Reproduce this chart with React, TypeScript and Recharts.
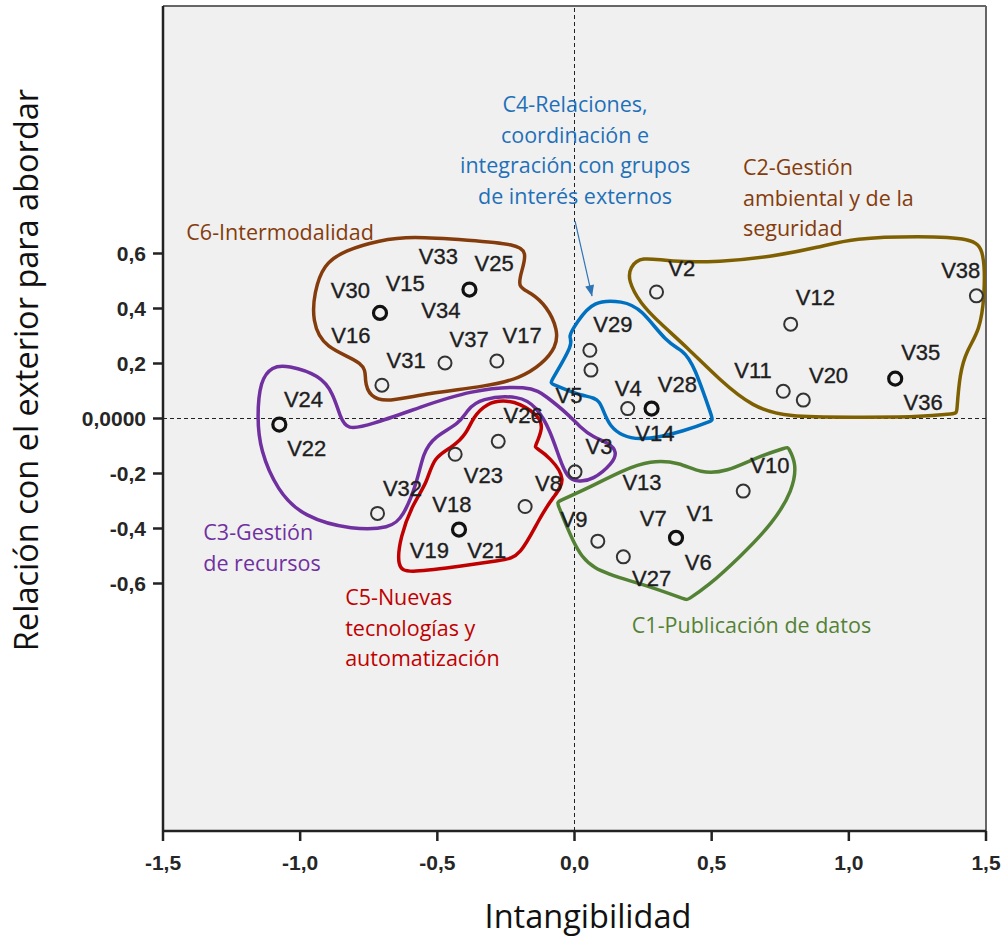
import React from "react";
import {
    ComposedChart, XAxis, YAxis, CartesianGrid, Scatter, Line, ReferenceLine,
} from "recharts";

// axis ticks
const X_TICKS = [-1.5, -1, -0.5, 0, 0.5, 1, 1.5];
const Y_TICKS = [-0.6, -0.4, -0.2, 0, 0.2, 0.4, 0.6];

// variables drawn as a single circle
const SINGLE_POINTS = [
    { x: -0.472, y: 0.202 }, { x: -0.283, y: 0.209 }, { x: -0.702, y: 0.121 },
    { x: 0.056, y: 0.248 }, { x: 0.06, y: 0.176 }, { x: 0.194, y: 0.036 },
    { x: 0.299, y: 0.46 }, { x: 0.788, y: 0.343 }, { x: 1.465, y: 0.446 },
    { x: 0.761, y: 0.099 }, { x: 0.834, y: 0.067 }, { x: -0.278, y: -0.083 },
    { x: -0.435, y: -0.13 }, { x: -0.18, y: -0.32 }, { x: -0.718, y: -0.345 },
    { x: 0.002, y: -0.194 }, { x: 0.615, y: -0.264 }, { x: 0.085, y: -0.446 },
    { x: 0.178, y: -0.503 },
];

// several variables on the same spot (heavier circle)
const MULTI_POINTS = [
    { x: -0.709, y: 0.384 }, { x: -0.383, y: 0.469 }, { x: 0.281, y: 0.036 },
    { x: 1.169, y: 0.145 }, { x: -1.076, y: -0.022 }, { x: -0.421, y: -0.404 },
    { x: 0.37, y: -0.434 },
];

const POINT_LABELS = [
    { name: "V33", x: -0.496, y: 0.589 }, { name: "V25", x: -0.293, y: 0.564 },
    { name: "V30", x: -0.817, y: 0.467 }, { name: "V15", x: -0.617, y: 0.492 },
    { name: "V34", x: -0.487, y: 0.394 }, { name: "V16", x: -0.815, y: 0.303 },
    { name: "V37", x: -0.384, y: 0.288 }, { name: "V17", x: -0.191, y: 0.302 },
    { name: "V31", x: -0.614, y: 0.212 }, { name: "V29", x: 0.14, y: 0.345 },
    { name: "V4", x: 0.196, y: 0.109 }, { name: "V28", x: 0.375, y: 0.125 },
    { name: "V5", x: -0.02, y: 0.085 }, { name: "V2", x: 0.391, y: 0.548 },
    { name: "V12", x: 0.878, y: 0.442 }, { name: "V38", x: 1.408, y: 0.539 },
    { name: "V11", x: 0.651, y: 0.176 }, { name: "V20", x: 0.926, y: 0.157 },
    { name: "V35", x: 1.262, y: 0.242 }, { name: "V36", x: 1.271, y: 0.06 },
    { name: "V14", x: 0.293, y: -0.053 }, { name: "V24", x: -0.988, y: 0.07 },
    { name: "V22", x: -0.976, y: -0.106 }, { name: "V32", x: -0.627, y: -0.252 },
    { name: "V23", x: -0.332, y: -0.206 }, { name: "V18", x: -0.447, y: -0.312 },
    { name: "V8", x: -0.095, y: -0.236 }, { name: "V19", x: -0.529, y: -0.479 },
    { name: "V21", x: -0.32, y: -0.479 }, { name: "V26", x: -0.187, y: 0.012 },
    { name: "V3", x: 0.089, y: -0.1 }, { name: "V13", x: 0.246, y: -0.231 },
    { name: "V10", x: 0.712, y: -0.17 }, { name: "V9", x: -0.002, y: -0.366 },
    { name: "V7", x: 0.287, y: -0.361 }, { name: "V1", x: 0.457, y: -0.345 },
    { name: "V6", x: 0.451, y: -0.521 }, { name: "V27", x: 0.281, y: -0.581 },
];

// cluster outlines
const HULL_C6 = [
    { x: -0.599, y: 0.663 }, { x: -0.381, y: 0.648 }, { x: -0.213, y: 0.634 },
    { x: -0.173, y: 0.605 }, { x: -0.191, y: 0.54 }, { x: -0.209, y: 0.478 },
    { x: -0.162, y: 0.46 }, { x: -0.1, y: 0.408 }, { x: -0.06, y: 0.321 },
    { x: -0.067, y: 0.259 }, { x: -0.118, y: 0.198 }, { x: -0.199, y: 0.146 },
    { x: -0.319, y: 0.117 }, { x: -0.537, y: 0.092 }, { x: -0.683, y: 0.059 },
    { x: -0.745, y: 0.077 }, { x: -0.767, y: 0.139 }, { x: -0.756, y: 0.202 },
    { x: -0.916, y: 0.256 }, { x: -0.956, y: 0.358 }, { x: -0.949, y: 0.456 },
    { x: -0.916, y: 0.561 }, { x: -0.836, y: 0.612 }, { x: -0.709, y: 0.648 },
];

const HULL_C2 = [
    { x: 0.195, y: 0.503 }, { x: 0.202, y: 0.55 }, { x: 0.242, y: 0.59 },
    { x: 0.348, y: 0.569 }, { x: 0.53, y: 0.569 }, { x: 0.712, y: 0.587 },
    { x: 0.894, y: 0.623 }, { x: 1.015, y: 0.656 }, { x: 1.259, y: 0.663 },
    { x: 1.452, y: 0.656 }, { x: 1.495, y: 0.612 }, { x: 1.495, y: 0.441 },
    { x: 1.477, y: 0.321 }, { x: 1.43, y: 0.248 }, { x: 1.404, y: 0.165 },
    { x: 1.393, y: 0.019 }, { x: 1.393, y: 0.019 }, { x: 1.258, y: 0.005 },
    { x: 1.015, y: 0.005 }, { x: 0.774, y: 0.005 }, { x: 0.65, y: 0.041 },
    { x: 0.53, y: 0.139 }, { x: 0.41, y: 0.259 }, { x: 0.311, y: 0.347 },
    { x: 0.239, y: 0.419 },
];

const HULL_C4 = [
    { x: 0.067, y: 0.43 }, { x: 0.177, y: 0.427 }, { x: 0.242, y: 0.401 },
    { x: 0.337, y: 0.274 }, { x: 0.395, y: 0.249 }, { x: 0.435, y: 0.197 },
    { x: 0.505, y: -0.006 }, { x: 0.505, y: -0.006 }, { x: 0.41, y: -0.043 },
    { x: 0.228, y: -0.09 }, { x: 0.118, y: -0.035 }, { x: 0.097, y: 0.078 },
    { x: 0.031, y: 0.078 }, { x: -0.089, y: 0.129 }, { x: -0.089, y: 0.129 },
    { x: 0.002, y: 0.281 }, { x: -0.027, y: 0.292 }, { x: 0.009, y: 0.35 },
];

const HULL_C3 = [
    { x: -1.146, y: 0.139 }, { x: -1.102, y: 0.19 }, { x: -1.047, y: 0.194 },
    { x: -0.927, y: 0.157 }, { x: -0.88, y: 0.092 }, { x: -0.854, y: 0.005 },
    { x: -0.829, y: -0.042 }, { x: -0.745, y: -0.024 }, { x: -0.563, y: 0.041 },
    { x: -0.381, y: 0.103 }, { x: -0.162, y: 0.122 }, { x: -0.1, y: 0.078 },
    { x: -0.027, y: 0.019 }, { x: 0.02, y: -0.031 }, { x: 0.067, y: -0.068 },
    { x: 0.129, y: -0.09 }, { x: 0.155, y: -0.122 }, { x: 0.14, y: -0.162 },
    { x: 0.067, y: -0.224 }, { x: 0.009, y: -0.231 }, { x: -0.027, y: -0.213 },
    { x: -0.053, y: -0.151 }, { x: -0.089, y: -0.042 }, { x: -0.137, y: 0.041 },
    { x: -0.199, y: 0.085 }, { x: -0.344, y: 0.074 }, { x: -0.392, y: 0.03 },
    { x: -0.417, y: -0.017 }, { x: -0.515, y: -0.068 }, { x: -0.552, y: -0.126 },
    { x: -0.574, y: -0.235 }, { x: -0.625, y: -0.359 }, { x: -0.672, y: -0.399 },
    { x: -0.807, y: -0.406 }, { x: -0.989, y: -0.359 }, { x: -1.084, y: -0.261 },
    { x: -1.146, y: -0.115 }, { x: -1.157, y: 0.005 },
];

const HULL_C5 = [
    { x: -0.26, y: 0.067 }, { x: -0.199, y: 0.056 }, { x: -0.126, y: 0.005 },
    { x: -0.115, y: -0.035 }, { x: -0.144, y: -0.104 }, { x: -0.144, y: -0.104 },
    { x: -0.089, y: -0.141 }, { x: -0.027, y: -0.224 }, { x: -0.078, y: -0.286 },
    { x: -0.126, y: -0.359 }, { x: -0.199, y: -0.504 }, { x: -0.26, y: -0.515 },
    { x: -0.443, y: -0.541 }, { x: -0.61, y: -0.562 }, { x: -0.647, y: -0.541 },
    { x: -0.636, y: -0.431 }, { x: -0.588, y: -0.307 }, { x: -0.537, y: -0.235 },
    { x: -0.515, y: -0.14 }, { x: -0.443, y: -0.104 }, { x: -0.392, y: -0.053 },
    { x: -0.37, y: 0.005 }, { x: -0.319, y: 0.056 },
];

const HULL_C1 = [
    { x: -0.064, y: -0.304 }, { x: -0.064, y: -0.304 }, { x: 0.056, y: -0.25 },
    { x: 0.177, y: -0.188 }, { x: 0.275, y: -0.152 }, { x: 0.384, y: -0.159 },
    { x: 0.457, y: -0.199 }, { x: 0.555, y: -0.195 }, { x: 0.665, y: -0.14 },
    { x: 0.778, y: -0.104 }, { x: 0.778, y: -0.104 }, { x: 0.81, y: -0.163 },
    { x: 0.796, y: -0.261 }, { x: 0.723, y: -0.381 }, { x: 0.603, y: -0.504 },
    { x: 0.483, y: -0.613 }, { x: 0.41, y: -0.66 }, { x: 0.41, y: -0.66 },
    { x: 0.239, y: -0.598 }, { x: 0.056, y: -0.551 }, { x: -0.005, y: -0.453 },
];

// cluster titles
const C1_TEXT = ["C1-Publicación de datos"];
const C2_TEXT = ["C2-Gestión", "ambiental y de la", "seguridad"];
const C3_TEXT = ["C3-Gestión", "de recursos"];
const C4_TEXT = ["C4-Relaciones,", "coordinación e", "integración con grupos", "de interés externos"];
const C5_TEXT = ["C5-Nuevas", "tecnologías y", "automatización"];
const C6_TEXT = ["C6-Intermodalidad"];

// where each title sits (first baseline), in axis units
const GROUP_LABELS = [
    { id: "C1", lines: C1_TEXT, x: 0.209, y: -0.779 },
    { id: "C2", lines: C2_TEXT, x: 0.614, y: 0.885 },
    { id: "C3", lines: C3_TEXT, x: -1.353, y: -0.442 },
    { id: "C4", lines: C4_TEXT, x: 0.002, y: 1.114 },
    { id: "C5", lines: C5_TEXT, x: -0.836, y: -0.679 },
    { id: "C6", lines: C6_TEXT, x: -1.415, y: 0.648 },
];

const ARROW = [{ x: 0.002, y: 0.718 }, { x: 0.064, y: 0.445 }];

const HULL_COLOR: Record<string, string> = {
    C1: "#548235", C2: "#7F6000", C3: "#7030A0", C4: "#0070C0", C5: "#C00000", C6: "#843C0C",
};
const TEXT_COLOR: Record<string, string> = {
    C1: "#548235", C2: "#843C0C", C3: "#7030A0", C4: "#1F70B8", C5: "#C00000", C6: "#843C0C",
};

const HULLS = [
    { id: "C6", data: HULL_C6 }, { id: "C2", data: HULL_C2 }, { id: "C4", data: HULL_C4 },
    { id: "C3", data: HULL_C3 }, { id: "C5", data: HULL_C5 }, { id: "C1", data: HULL_C1 },
];

const fmt = (v: number) => v.toFixed(1).replace(".", ",");
const fmtY = (v: number) => (v === 0 ? "0,0000" : fmt(v));

const tickFont = {
    fill: "#262626", fontSize: 21, fontWeight: 700, fontFamily: "'Liberation Sans', Arial, sans-serif",
};
const annoFont = "'Open Sans', sans-serif";

const circleShape = (heavy: boolean) => (p: any) => (
    <circle cx={p.cx} cy={p.cy} r={6.5} fill="none" stroke={heavy ? "#111" : "#333"} strokeWidth={heavy ? 3.2 : 2} />
);

const pointLabelShape = (p: any) => (
    <text
        x={p.cx} y={p.cy} dy="0.36em" textAnchor="middle"
        fontFamily="'Liberation Sans', Arial, sans-serif" fontSize={22}
        fill="#1e1e1e" stroke="#1e1e1e" strokeWidth={0.35}
    >
        {p.payload.name}
    </text>
);

const groupLabelShape = (p: any) => {
    const { id, lines } = p.payload;
    const anchor = id === "C4" ? "middle" : "start";
    return (
        <text x={p.cx} y={p.cy} textAnchor={anchor} fontFamily={annoFont} fontSize={21.5} fill={TEXT_COLOR[id]}>
            {lines.map((l: string, i: number) => (
                <tspan key={i} x={p.cx} dy={i === 0 ? 0 : 30.5}>{l}</tspan>
            ))}
        </text>
    );
};

const arrowDot = (p: any) => {
    if (p.index !== 1) return <g key={p.index} />;
    const ang = Math.atan2(-(ARROW[1].y - ARROW[0].y), ARROW[1].x - ARROW[0].x) * 180 / Math.PI;
    return (
        <polygon
            key={p.index}
            points="0,0 -11,-4.5 -11,4.5"
            fill="#2E75B6"
            transform={`translate(${p.cx},${p.cy}) rotate(${ang})`}
        />
    );
};

export default function App() {
    return (
        <div style={{ position: "absolute", left: 0, top: 0, width: 1006, height: 938, background: "#fff" }}>
            <ComposedChart width={1006} height={938} margin={{ top: 6, right: 20, bottom: 0, left: 0 }}>
                <CartesianGrid fill="#f0f0f0" horizontal={false} vertical={false} />
                <XAxis
                    type="number" dataKey="x" domain={[-1.5, 1.5]} ticks={X_TICKS} allowDataOverflow interval={0}
                    height={107} tickSize={10} tickMargin={14} tickFormatter={fmt} tick={tickFont}
                    axisLine={{ stroke: "#222", strokeWidth: 2.5 }} tickLine={{ stroke: "#222", strokeWidth: 2.5 }}
                />
                <YAxis
                    type="number" dataKey="y" domain={[-1.5, 1.5]} ticks={Y_TICKS} allowDataOverflow interval={0}
                    width={163} tickSize={10} tickMargin={7} tickFormatter={fmtY} tick={tickFont}
                    axisLine={{ stroke: "#222", strokeWidth: 2.5 }} tickLine={{ stroke: "#222", strokeWidth: 2.5 }}
                />
                <ReferenceLine y={1.5} stroke="#666" strokeWidth={2} />
                <ReferenceLine x={1.5} stroke="#666" strokeWidth={2} />
                <ReferenceLine x={0} stroke="#222" strokeWidth={1} strokeDasharray="4 3" />
                <ReferenceLine y={0} stroke="#222" strokeWidth={1} strokeDasharray="4 3" />

                {HULLS.map((h) => (
                    <Line
                        key={h.id} data={h.data} dataKey="y" type="basisClosed"
                        stroke={HULL_COLOR[h.id]} strokeWidth={3.5} dot={false} activeDot={false}
                        isAnimationActive={false}
                    />
                ))}
                <Line
                    data={ARROW} dataKey="y" type="linear" stroke="#2E75B6" strokeWidth={1.2}
                    dot={arrowDot} activeDot={false} isAnimationActive={false}
                />

                <Scatter data={SINGLE_POINTS} shape={circleShape(false)} isAnimationActive={false} />
                <Scatter data={MULTI_POINTS} shape={circleShape(true)} isAnimationActive={false} />
                <Scatter data={POINT_LABELS} shape={pointLabelShape} isAnimationActive={false} />
                <Scatter data={GROUP_LABELS} shape={groupLabelShape} isAnimationActive={false} />
            </ComposedChart>
            <svg width={1006} height={938} style={{ position: "absolute", left: 0, top: 0, pointerEvents: "none" }}>
                <text x={588} y={928} textAnchor="middle" fontFamily={annoFont} fontSize={32.5} fill="#111">
                    Intangibilidad
                </text>
                <text transform="translate(38,370) rotate(-90)" textAnchor="middle" fontFamily={annoFont} fontSize={32.5} fill="#111">
                    Relación con el exterior para abordar
                </text>
            </svg>
        </div>
    );
}
